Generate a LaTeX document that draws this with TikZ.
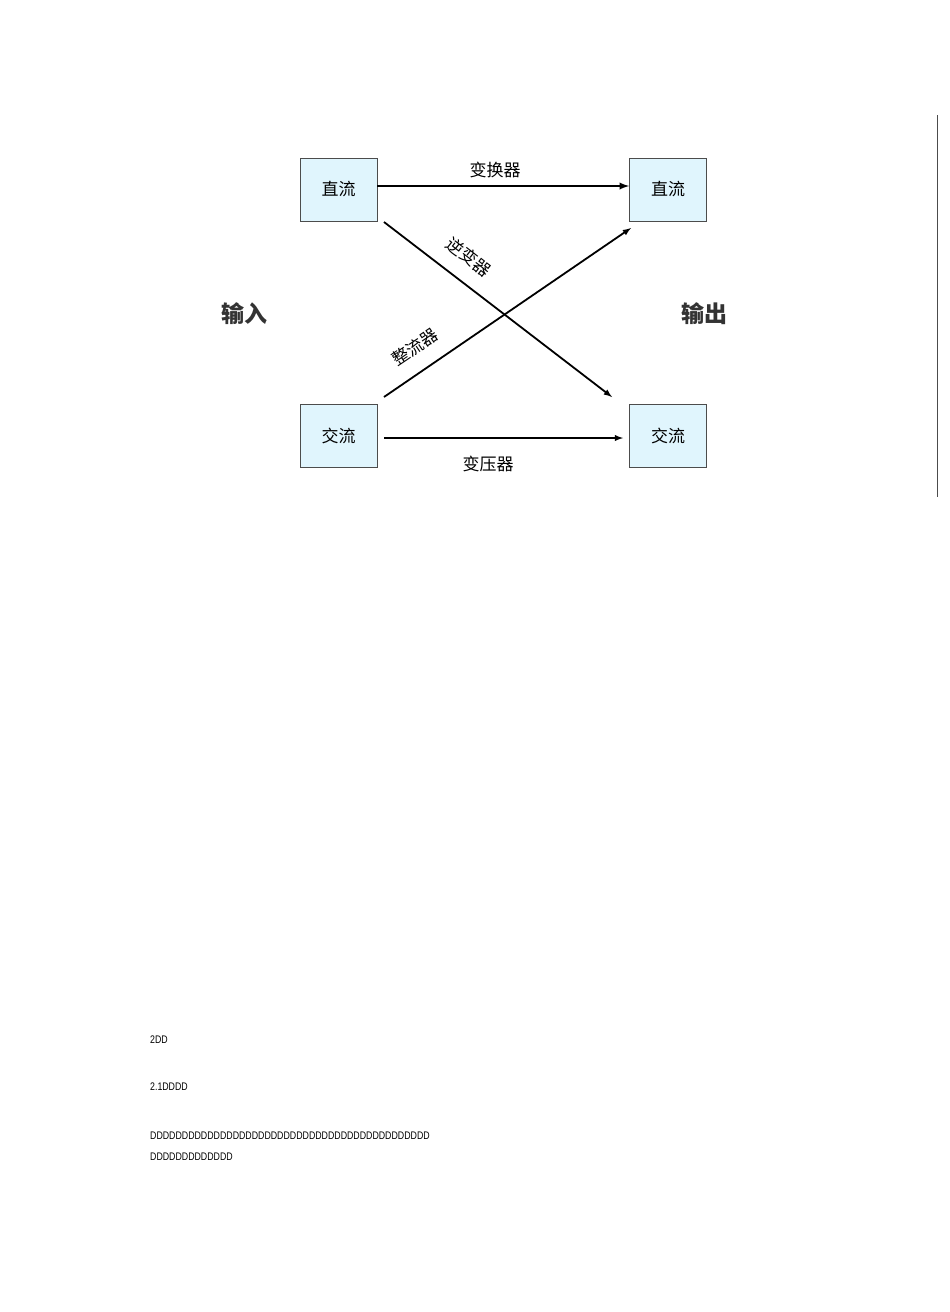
\documentclass[tikz,border=0pt]{standalone}
\usepackage{fontspec}
\newfontfamily\cjk{Noto Sans CJK SC}
\setmainfont{Liberation Sans}
\begin{document}
\begin{tikzpicture}[x=1pt,y=-1pt,
 box/.style={draw=black!70,line width=0.8pt,fill=cyan!12,minimum width=77pt,minimum height=63pt,inner sep=0pt,font=\cjk\fontsize{17}{17}\selectfont},
 lab/.style={font=\cjk\fontsize{17}{17}\selectfont,inner sep=0pt},
 big/.style={font=\cjk\bfseries\fontsize{23}{23}\selectfont,inner sep=0pt,text=black!80},
 arr/.style={-latex,line width=1.8pt},
 small/.style={font=\fontsize{11}{11}\selectfont,anchor=west,inner sep=0pt,xscale=0.8}]
\useasboundingbox (0,0) rectangle (950,1312);
\node[box] (dl) at (338.5,189.5) {直流};
\node[box] (dr) at (668,189.5) {直流};
\node[box] (al) at (338.5,436) {交流};
\node[box] (ar) at (668,436) {交流};
\coordinate (s1) at (384,222); \coordinate (e1) at (612,397);
\coordinate (s2) at (384,397); \coordinate (e2) at (631,228);
\coordinate (s3) at (384,438); \coordinate (e3) at (623,438);
\draw[arr,line width=2.2pt] (dl.east |- 0,186) -- (dr.west |- 0,186);
\draw[arr] (s1) -- (e1);
\draw[arr] (s2) -- (e2);
\draw[arr] (s3) -- (e3);
\node[lab] (t1) at (495,170) {变换器};
\node[lab,rotate=-38] (t2) at (469,257) {逆变器};
\node[lab,rotate=34] (t3) at (415,347) {整流器};
\node[lab] (t4) at (488,464) {变压器};
\node[big] (in) at (244,314) {输入};
\node[big] (out) at (704,314) {输出};
\coordinate (v1) at (937,115); \coordinate (v2) at (937,497);
\draw[black!70,line width=0.8pt] (v1) -- (v2);
\node[small] (p1) at (150,1040) {2DD};
\node[small] (p2) at (150,1087) {2.1DDDD};
\node[small] (p3) at (150,1136) {DDDDDDDDDDDDDDDDDDDDDDDDDDDDDDDDDDDDDDDDDDDD};
\node[small] (p4) at (150,1157) {DDDDDDDDDDDDD};
\end{tikzpicture}
\end{document}
